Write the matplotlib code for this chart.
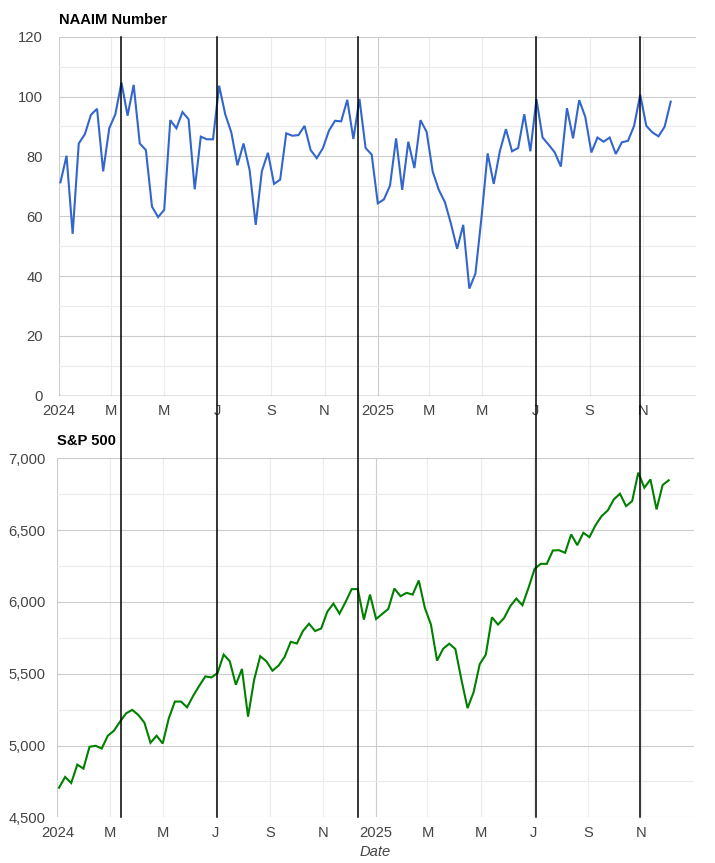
import matplotlib
matplotlib.use('Agg')
import matplotlib.pyplot as plt
import matplotlib.ticker as mticker
import matplotlib.transforms as mtransforms
import matplotlib.dates as mdates
from matplotlib.lines import Line2D
import pandas as pd

plt.rcParams['font.family'] = ['Liberation Sans', 'DejaVu Sans']

# ---------------- data ----------------
week_start = '2024-01-03'
n_weeks = 101
dates = pd.date_range(week_start, periods=n_weeks, freq='7D')

naaim = [71.3, 80.2, 54.1, 84.3, 87.4, 93.9, 95.9, 75.0, 89.4, 94.1,
         104.7, 93.6, 103.9, 84.3, 82.1, 63.2, 59.7, 62.1, 92.1, 89.4,
         94.8, 92.4, 69.0, 86.6, 85.7, 85.7, 103.6, 94.1, 88.0, 77.0,
         84.3, 75.4, 57.1, 75.0, 81.2, 70.8, 72.2, 87.7, 86.9, 87.1,
         90.2, 82.1, 79.4, 82.7, 88.6, 91.9, 91.7, 98.9, 85.8, 99.2,
         82.8, 80.6, 64.3, 65.6, 70.2, 86.0, 68.8, 84.9, 76.1, 92.1,
         88.2, 74.9, 68.8, 64.7, 57.4, 49.1, 57.1, 35.8, 40.8, 59.7,
         81.0, 70.8, 81.7, 89.1, 81.7, 82.8, 94.1, 81.7, 99.1, 86.3,
         83.9, 81.3, 76.6, 96.1, 86.0, 98.8, 93.2, 81.3, 86.3, 84.9,
         86.3, 80.8, 84.7, 85.2, 90.2, 100.6, 90.2, 88.0, 86.7, 89.9,
         98.3]

sp500 = [4706, 4781, 4739, 4867, 4839, 4991, 4998, 4979, 5068, 5103,
         5166, 5224, 5248, 5213, 5159, 5019, 5068, 5014, 5189, 5306,
         5306, 5266, 5346, 5416, 5481, 5474, 5505, 5633, 5587, 5423,
         5533, 5201, 5458, 5622, 5587, 5521, 5556, 5617, 5722, 5710,
         5797, 5848, 5797, 5815, 5932, 5988, 5918, 6000, 6089, 6089,
         5877, 6051, 5881, 5916, 5951, 6093, 6040, 6063, 6051, 6149,
         5958, 5842, 5591, 5674, 5709, 5672, 5458, 5260, 5372, 5567,
         5633, 5893, 5842, 5888, 5970, 6023, 5977, 6098, 6230, 6265,
         6265, 6358, 6360, 6342, 6470, 6395, 6481, 6451, 6535, 6598,
         6637, 6714, 6753, 6667, 6702, 6900, 6795, 6853, 6644, 6814,
         6847]

event_dates = pd.to_datetime(['2024-03-13', '2024-07-01', '2024-12-09',
                              '2025-07-01', '2025-10-29'])

tick_dates = pd.to_datetime(['2024-01-01', '2024-03-01', '2024-05-01', '2024-07-01',
                             '2024-09-01', '2024-11-01', '2025-01-01', '2025-03-01',
                             '2025-05-01', '2025-07-01', '2025-09-01', '2025-11-01'])
tick_labels = ['2024', 'M', 'M', 'J', 'S', 'N', '2025', 'M', 'M', 'J', 'S', 'N']

x_range = pd.to_datetime(['2024-01-01', '2026-01-01'])

top_title = 'NAAIM Number'
bottom_title = 'S&P 500'
x_title = 'Date'

# ---------------- figure ----------------
W, H = 715, 863
fig = plt.figure(figsize=(W / 100, H / 100), dpi=100)

def frac_box(l, r, t, b):
    return [l / W, 1 - b / H, (r - l) / W, (b - t) / H]

ax1 = fig.add_axes(frac_box(58.7, 696, 36.7, 395.7))
ax2 = fig.add_axes(frac_box(57.3, 694, 458.3, 817.3))

LABEL_COLOR = '#444444'
MAJOR_GRID = '#cccccc'
MINOR_GRID = '#ebebeb'
FS = 10.6

def style_axes(ax, ymin, ymax, major, minor, ypad, fmt):
    ax.set_xlim(x_range[0], x_range[1])
    ax.set_ylim(ymin, ymax)
    for s in ax.spines.values():
        s.set_visible(False)
    ax.set_yticks(list(range(ymin, ymax + 1, major)))
    ax.yaxis.set_minor_locator(mticker.MultipleLocator(minor))
    ax.yaxis.set_major_formatter(mticker.StrMethodFormatter(fmt))
    ax.grid(True, axis='y', which='major', color=MAJOR_GRID, lw=0.8, zorder=0)
    ax.grid(True, axis='y', which='minor', color=MINOR_GRID, lw=0.8, zorder=0)
    ax.set_xticks(tick_dates)
    ax.set_xticklabels(tick_labels)
    for d in tick_dates:
        c = MAJOR_GRID if (d.month == 1) else MINOR_GRID
        ax.axvline(d, color=c, lw=0.8, zorder=0.5)
    ax.tick_params(axis='both', which='both', length=0, labelsize=FS,
                   labelcolor=LABEL_COLOR)
    ax.tick_params(axis='y', pad=ypad)
    ax.tick_params(axis='x', pad=6)
    ax.set_axisbelow(True)

style_axes(ax1, 0, 120, 20, 10, 11.5, '{x:.0f}')
style_axes(ax2, 4500, 7000, 500, 250, 8.4, '{x:,.0f}')

ax1.axhline(0, color='#333333', lw=0.9, zorder=1)

ax1.plot(dates, naaim, color='#3366cc', lw=1.5, zorder=3, solid_joinstyle='miter')
ax2.plot(dates, sp500, color='#008000', lw=1.5, zorder=3, solid_joinstyle='miter')

ax1.set_title(top_title, loc='left', fontsize=FS, fontweight='bold', pad=9, color='black')
ax2.set_title(bottom_title, loc='left', fontsize=FS, fontweight='bold', pad=9.5, color='black')
ax2.set_xlabel(x_title, fontsize=FS, style='italic', color=LABEL_COLOR, labelpad=4)

# event lines spanning both panels
trans = mtransforms.blended_transform_factory(ax1.transData, fig.transFigure)
y_top = 1 - 36.7 / H
y_bot = 1 - 817.3 / H
for d in mdates.date2num(event_dates.to_pydatetime()):
    fig.add_artist(Line2D([d, d], [y_bot, y_top], transform=trans,
                          color='black', lw=1.1, zorder=5))

fig.savefig('out.png', dpi=100)
